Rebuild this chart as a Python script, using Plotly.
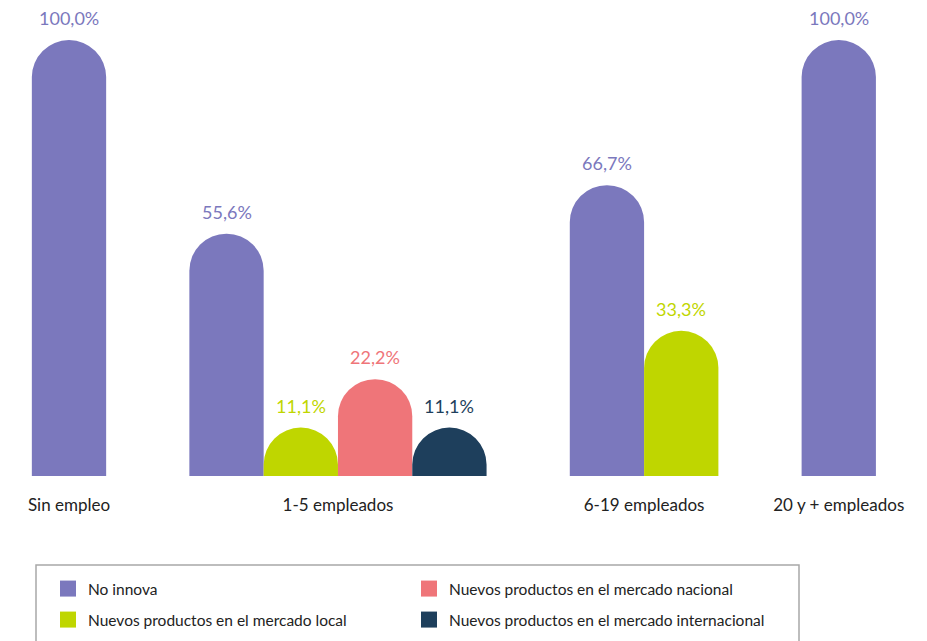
import plotly.graph_objects as go

# ---------------- data ----------------
categories = ["Sin empleo", "1-5 empleados", "6-19 empleados", "20 y + empleados"]
series_names = [
    "No innova",
    "Nuevos productos en el mercado local",
    "Nuevos productos en el mercado nacional",
    "Nuevos productos en el mercado internacional",
]
no_innova = [100.0, 55.6, 66.7, 100.0]
mercado_local = [None, 11.1, 33.3, None]
mercado_nacional = [None, 22.2, None, None]
mercado_internacional = [None, 11.1, None, None]

colors = ["#7B78BD", "#BFD600", "#EF7579", "#1E3F5C"]
all_series = [no_innova, mercado_local, mercado_nacional, mercado_internacional]

# ---------------- bar slot positions (no gaps for missing values) ----------------
GROUP_GAP = 1.12
xs = {i: [] for i in range(len(all_series))}
ys = {i: [] for i in range(len(all_series))}
group_centers = []
pos = 0.0
for g in range(len(categories)):
    start = pos
    for s, vals in enumerate(all_series):
        v = vals[g]
        if v is not None:
            xs[s].append(pos)
            ys[s].append(v)
            pos += 1.0
    group_centers.append((start + pos - 1.0) / 2.0)
    pos += GROUP_GAP

FONT = "Lato, 'Open Sans', sans-serif"

fig = go.Figure()
for s in range(len(all_series)):
    fig.add_trace(go.Bar(
        x=xs[s], y=ys[s], width=1.0,
        marker=dict(color=colors[s], line=dict(width=0)),
        showlegend=False, hoverinfo="skip",
    ))

# legend-only traces (one legend per entry to place them in a 2x2 box)
legend_ids = ["legend", "legend2", "legend3", "legend4"]
for s in range(len(all_series)):
    fig.add_trace(go.Scatter(
        x=[None], y=[None], mode="markers", name=series_names[s],
        marker=dict(symbol="square", size=16, color=colors[s]),
        legend=legend_ids[s], showlegend=True,
    ))

# value labels
for s in range(len(all_series)):
    for x, y in zip(xs[s], ys[s]):
        fig.add_annotation(
            x=x, y=y, text=f"{y:.1f}%".replace(".", ","),
            showarrow=False, yanchor="middle", yshift=22,
            font=dict(family=FONT, size=18, color=colors[s]),
        )

W, H = 927, 641
ML, MR, MT, MB = 10, 10, 10, 165
pw, ph = W - ML - MR, H - MT - MB

def px_to_paper_x(px):
    return (px - ML) / pw

def px_to_paper_y(py):
    return (H - MB - py) / ph

fig.add_shape(
    type="rect", xref="paper", yref="paper",
    x0=px_to_paper_x(36), x1=px_to_paper_x(799),
    y0=px_to_paper_y(565), y1=px_to_paper_y(660),
    line=dict(color="#A8A8A8", width=1.5), fillcolor="rgba(0,0,0,0)",
)

leg_common = dict(
    xref="container", yref="container", xanchor="left", yanchor="middle",
    orientation="h", bgcolor="rgba(0,0,0,0)", borderwidth=0,
    font=dict(family=FONT, size=15.5, color="#222222"),
)
lx1, lx2 = 48 / W, 409 / W
ly1, ly2 = 1 - 589 / H, 1 - 620 / H

fig.update_layout(
    width=W, height=H,
    margin=dict(l=ML, r=MR, t=MT, b=MB),
    paper_bgcolor="white", plot_bgcolor="white",
    barmode="overlay",
    barcornerradius="50%",
    xaxis=dict(
        range=[-0.794, 11.413], showgrid=False, zeroline=False, showline=False,
        tickmode="array", tickvals=group_centers, ticktext=categories,
        ticks="outside", ticklen=14, tickcolor="rgba(0,0,0,0)",
        tickfont=dict(family=FONT, size=17, color="#222222"),
    ),
    yaxis=dict(range=[0, 106.9], visible=False, showgrid=False, zeroline=False),
    legend=dict(x=lx1, y=ly1, **leg_common),
    legend2=dict(x=lx1, y=ly2, **leg_common),
    legend3=dict(x=lx2, y=ly1, **leg_common),
    legend4=dict(x=lx2, y=ly2, **leg_common),
)

fig.write_html(
    "out.html",
    config={"displayModeBar": False},
    post_script="document.body.style.margin='0';",
)
